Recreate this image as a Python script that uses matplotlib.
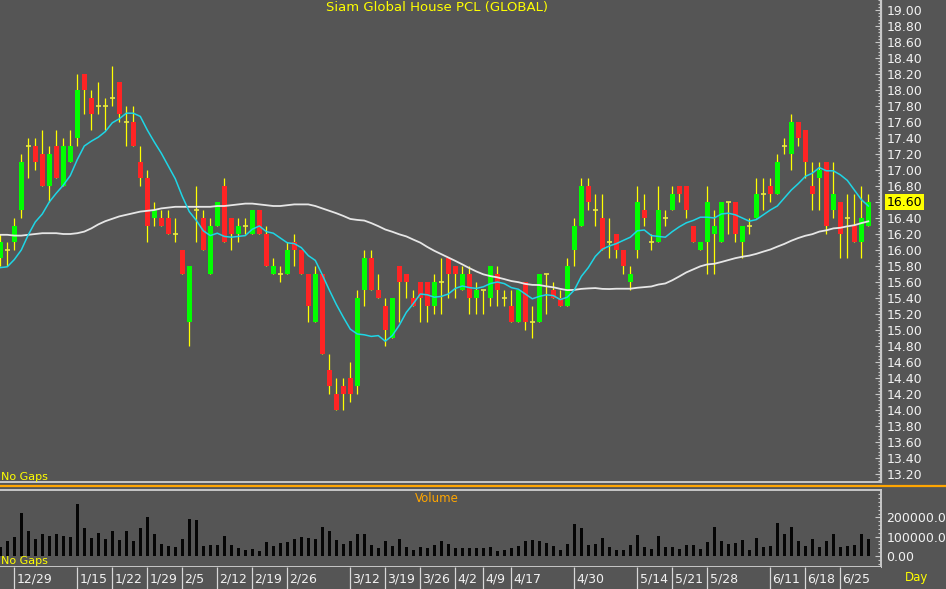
import matplotlib
matplotlib.use("Agg")
import matplotlib.pyplot as plt
import matplotlib.transforms as mtransforms
from matplotlib.ticker import FixedLocator, MultipleLocator, FuncFormatter
import numpy as np
import pandas as pd

# ---------------- data ----------------
title = "Siam Global House PCL (GLOBAL)"

opens = [15.9, 16.0, 16.1, 16.5, 17.3, 17.3, 17.2, 16.8, 17.3, 16.8,
         17.1, 17.4, 18.2, 17.9, 17.8, 17.8, 17.9, 18.1, 17.6, 17.6,
         17.1, 16.9, 16.4, 16.4, 16.4, 16.2, 16.0, 15.1, 16.5, 16.4,
         15.7, 16.3, 16.8, 16.4, 16.2, 16.3, 16.2, 16.5, 16.2, 15.7,
         15.7, 15.7, 16.1, 16.0, 15.7, 15.1, 15.7, 14.5, 14.2, 14.3,
         14.4, 14.3, 15.5, 15.9, 15.5, 15.3, 14.9, 15.8, 15.7, 15.4,
         15.6, 15.6, 15.3, 15.6, 15.9, 15.8, 15.5, 15.7, 15.4, 15.5,
         15.4, 15.7, 15.4, 15.3, 15.1, 15.6, 15.1, 15.1, 15.7, 15.5,
         15.4, 15.3, 16.0, 16.3, 16.8, 16.5, 16.4, 16.1, 16.2, 16.0,
         15.6, 16.0, 16.5, 16.1, 16.1, 16.4, 16.5, 16.8, 16.8, 16.3,
         16.0, 16.1, 16.2, 16.1, 16.6, 16.6, 16.1, 16.3, 16.4, 16.7,
         16.8, 16.7, 17.3, 17.2, 17.6, 17.5, 16.8, 16.9, 17.1, 16.5,
         16.6, 16.4, 16.3, 16.1, 16.3]
highs = [16.2, 16.1, 16.4, 17.2, 17.4, 17.4, 17.5, 17.3, 17.5, 17.4,
         17.5, 18.2, 18.2, 18.0, 18.1, 17.9, 18.3, 18.1, 17.8, 17.8,
         17.3, 17.0, 16.6, 16.5, 16.5, 16.4, 16.0, 15.8, 16.8, 16.5,
         16.4, 16.6, 16.9, 16.4, 16.4, 16.4, 16.5, 16.5, 16.3, 15.9,
         15.8, 16.1, 16.2, 16.0, 15.7, 15.8, 15.7, 14.7, 14.4, 14.4,
         14.6, 15.5, 16.0, 16.0, 15.7, 15.4, 15.4, 15.8, 15.7, 15.5,
         15.6, 15.6, 15.7, 15.9, 15.9, 15.8, 15.8, 15.8, 15.6, 15.5,
         15.8, 15.8, 15.5, 15.5, 15.5, 15.6, 15.3, 15.7, 15.7, 15.6,
         15.5, 15.9, 16.4, 16.9, 16.9, 16.7, 16.7, 16.4, 16.2, 16.0,
         15.8, 16.8, 16.7, 16.2, 16.8, 16.5, 16.8, 16.8, 16.8, 16.3,
         16.1, 16.8, 16.5, 16.6, 16.6, 16.6, 16.3, 16.4, 16.9, 16.9,
         16.9, 17.2, 17.4, 17.7, 17.6, 17.5, 17.1, 17.1, 17.1, 17.1,
         16.6, 16.7, 16.7, 16.8, 16.7]
lows = [15.8, 15.8, 16.0, 16.4, 16.9, 17.0, 16.8, 16.6, 16.9, 16.8,
        17.1, 17.3, 17.7, 17.5, 17.7, 17.5, 17.8, 17.6, 17.3, 17.3,
        16.8, 16.1, 16.3, 16.3, 16.2, 16.1, 15.7, 14.8, 16.1, 16.0,
        15.7, 16.3, 16.1, 16.0, 16.1, 16.2, 16.2, 16.2, 15.8, 15.7,
        15.6, 15.7, 15.8, 15.7, 15.1, 15.1, 14.7, 14.2, 14.0, 14.0,
        14.1, 14.2, 15.3, 15.5, 15.4, 14.8, 14.9, 15.1, 15.4, 15.3,
        15.1, 15.1, 15.2, 15.2, 15.4, 15.4, 15.5, 15.2, 15.2, 15.2,
        15.3, 15.3, 15.3, 15.1, 15.1, 15.0, 14.9, 15.1, 15.2, 15.4,
        15.3, 15.3, 15.8, 16.3, 16.5, 16.3, 16.0, 15.9, 15.9, 15.7,
        15.5, 15.9, 16.3, 16.0, 16.1, 16.3, 16.5, 16.6, 16.4, 16.1,
        16.0, 15.7, 15.7, 16.1, 16.2, 16.1, 15.9, 16.2, 16.4, 16.5,
        16.6, 16.7, 17.2, 17.0, 17.3, 16.9, 16.5, 16.5, 16.2, 16.4,
        15.9, 15.9, 16.1, 15.9, 16.3]
closes = [16.1, 16.0, 16.3, 17.1, 17.3, 17.1, 16.8, 17.2, 16.9, 17.3,
          17.3, 18.0, 18.0, 17.7, 17.8, 17.8, 17.9, 17.7, 17.6, 17.3,
          16.9, 16.3, 16.5, 16.3, 16.2, 16.2, 15.7, 15.8, 16.5, 16.0,
          16.3, 16.6, 16.1, 16.2, 16.3, 16.3, 16.5, 16.2, 15.8, 15.8,
          15.7, 16.0, 16.0, 15.7, 15.3, 15.7, 14.7, 14.3, 14.0, 14.2,
          14.2, 15.4, 15.9, 15.5, 15.4, 15.0, 15.4, 15.6, 15.6, 15.3,
          15.4, 15.3, 15.6, 15.6, 15.7, 15.7, 15.7, 15.4, 15.5, 15.5,
          15.8, 15.5, 15.4, 15.1, 15.5, 15.1, 15.1, 15.7, 15.7, 15.4,
          15.3, 15.8, 16.3, 16.8, 16.6, 16.5, 16.0, 16.1, 16.0, 15.8,
          15.7, 16.6, 16.4, 16.1, 16.5, 16.4, 16.7, 16.7, 16.5, 16.1,
          16.1, 16.6, 16.3, 16.6, 16.6, 16.2, 16.3, 16.3, 16.7, 16.7,
          16.7, 17.1, 17.3, 17.6, 17.4, 17.1, 16.7, 17.0, 16.3, 16.7,
          16.2, 16.4, 16.1, 16.4, 16.6]
volumes = [45000, 79000, 97000, 223000, 130000, 86000, 116000, 104000, 112000, 102000,
           97000, 269000, 145000, 95000, 117000, 86000, 130000, 81000, 130000, 76000,
           145000, 200000, 114000, 64000, 54000, 47000, 86000, 190000, 187000, 50000,
           55000, 55000, 102000, 55000, 41000, 31000, 36000, 28000, 73000, 50000,
           69000, 74000, 86000, 98000, 93000, 86000, 150000, 128000, 81000, 60000,
           78000, 112000, 112000, 55000, 41000, 76000, 50000, 90000, 47000, 33000,
           48000, 43000, 57000, 78000, 60000, 43000, 43000, 41000, 40000, 40000,
           47000, 28000, 31000, 41000, 52000, 76000, 85000, 76000, 66000, 50000,
           33000, 60000, 166000, 143000, 57000, 62000, 93000, 48000, 33000, 32000,
           59000, 110000, 45000, 35000, 105000, 47000, 47000, 38000, 55000, 59000,
           38000, 74000, 152000, 76000, 60000, 67000, 83000, 33000, 93000, 48000,
           54000, 173000, 114000, 152000, 76000, 54000, 86000, 47000, 79000, 116000,
           48000, 54000, 55000, 114000, 90000]

# moving-average values at the start of the chart (history not shown)
ma10_start = [15.78, 15.79, 15.88, 16.00, 16.19, 16.35, 16.45, 16.60, 16.71]
ma50_start = [16.19, 16.19, 16.18, 16.18, 16.19, 16.20, 16.21, 16.21, 16.21, 16.20,
              16.20, 16.21, 16.23, 16.27, 16.32, 16.36, 16.39, 16.42, 16.44, 16.46,
              16.48, 16.49, 16.50, 16.52, 16.53, 16.54, 16.54, 16.54, 16.54, 16.54,
              16.54, 16.55, 16.55, 16.56, 16.57, 16.58, 16.58, 16.57, 16.56, 16.55,
              16.55, 16.56, 16.57, 16.57, 16.57, 16.55, 16.52, 16.49, 16.46]

week_labels = ['12/29', '1/15', '1/22', '1/29', '2/5', '2/12', '2/19', '2/26',
               '3/12', '3/19', '3/26', '4/2', '4/9', '4/17', '4/30', '5/14',
               '5/21', '5/28', '6/11', '6/18', '6/25']
week_index = [2, 11, 16, 21, 26, 31, 36, 41, 50, 55, 60, 65, 69, 73, 82, 91,
              96, 101, 110, 115, 120]

last_price = 16.60

# ---------------- style ----------------
BG = '#555555'
W, H = 946, 589
plt.rcParams['font.family'] = ['DejaVu Sans']

fig = plt.figure(figsize=(W / 100, H / 100), dpi=100, facecolor=BG)


def rect(x0, y0, x1, y1):
    return [x0 / W, 1 - y1 / H, (x1 - x0) / W, (y1 - y0) / H]


ax = fig.add_axes(rect(0, 0, 881, 482), facecolor=BG)
axv = fig.add_axes(rect(0, 490, 881, 567), facecolor=BG, sharex=ax)
axs = fig.add_axes(rect(0, 567, 881, 589), facecolor=BG, sharex=ax)

n = len(closes)
x = np.arange(n)
o = np.array(opens); c = np.array(closes)
h = np.array(highs); l = np.array(lows)

# wicks
ax.vlines(x, l, h, color='#FFFF00', linewidth=0.9, zorder=2)
# bodies
up = c > o
dn = c < o
dj = c == o
ax.bar(x[up], (c - o)[up], bottom=o[up], width=0.72, color='#00FF00', linewidth=0, zorder=3)
ax.bar(x[dn], (o - c)[dn], bottom=c[dn], width=0.72, color='#FF2424', linewidth=0, zorder=3)
ax.hlines(c[dj], x[dj] - 0.36, x[dj] + 0.36, color='#E8E84A', linewidth=1.2, zorder=3)

# moving averages
cs = pd.Series(closes)
ma10 = cs.rolling(10).mean().to_numpy()
ma10[:len(ma10_start)] = ma10_start
ma50 = cs.rolling(50).mean().to_numpy()
ma50[:len(ma50_start)] = ma50_start
ax.plot(x, ma50, color='#E6E6E6', linewidth=1.3, zorder=4)
ax.plot(x, ma10, color='#1ED6E6', linewidth=1.1, zorder=5)

xlim = (-0.04, 125.81)
ax.set_xlim(*xlim)
ax.set_ylim(13.1, 19.125)

for sp in ['top', 'left']:
    ax.spines[sp].set_visible(False)
ax.spines['right'].set_color('#C8C8C8')
ax.spines['right'].set_linewidth(1.6)
ax.spines['bottom'].set_color('#C8C8C8')
ax.spines['bottom'].set_linewidth(1.4)
ax.xaxis.set_visible(False)
ax.yaxis.tick_right()
ticks = np.round(np.arange(13.2, 19.01, 0.2), 2)
ax.yaxis.set_major_locator(FixedLocator(ticks))
ax.yaxis.set_minor_locator(MultipleLocator(0.04))
ax.yaxis.set_major_formatter(FuncFormatter(
    lambda v, p: '' if abs(v - last_price) < 1e-6 else f'{v:.2f}'))
ax.tick_params(axis='y', which='major', direction='in', length=4.5, width=0.8,
               color='#C8C8C8', labelcolor='#F2F2F2', labelsize=9, pad=4)
ax.tick_params(axis='y', which='minor', direction='in', length=2, width=0.8,
               color='#C8C8C8')

# last price highlight
trans = mtransforms.blended_transform_factory(ax.transAxes, ax.transData)
ax.annotate(f'{last_price:.2f}', xy=(1.0, last_price), xycoords=trans,
            xytext=(4, 0), textcoords='offset points', ha='left', va='center',
            fontsize=9, color='black', annotation_clip=False,
            bbox=dict(boxstyle='square,pad=0.12', fc='#FFFF00', ec='none'))

fig.text(437 / W, 1 - 8 / H, title, color='#FFFF00', fontsize=9.5,
         ha='center', va='center')
fig.text(0.5 / W, 1 - 477 / H, 'No Gaps', color='#FFFF00', fontsize=8,
         ha='left', va='center')

# separator line between panels
fig.add_artist(plt.Line2D([0, 1], [1 - 486 / H, 1 - 486 / H], color='#FFA500',
                          linewidth=1.6, transform=fig.transFigure))

# ---------------- volume ----------------
axv.bar(x, volumes, width=0.45, color='#050505', linewidth=0, zorder=2)
axv.set_ylim(-57000, 342000)
axv.spines['left'].set_visible(False)
for sp in ['right', 'top', 'bottom']:
    axv.spines[sp].set_color('#C8C8C8')
    axv.spines[sp].set_linewidth(1.4)
axv.xaxis.set_visible(False)
axv.yaxis.tick_right()
axv.yaxis.set_major_locator(FixedLocator([0, 100000, 200000]))
axv.yaxis.set_minor_locator(MultipleLocator(20000))
axv.yaxis.set_major_formatter(FuncFormatter(lambda v, p: f'{v:.2f}'))
axv.tick_params(axis='y', which='major', direction='in', length=4.5, width=0.8,
                color='#C8C8C8', labelcolor='#F2F2F2', labelsize=9, pad=4)
axv.tick_params(axis='y', which='minor', direction='in', length=2, width=0.8,
                color='#C8C8C8')
fig.text(437 / W, 1 - 499 / H, 'Volume', color='#FFA500', fontsize=8.5,
         ha='center', va='center')
fig.text(0.5 / W, 1 - 561 / H, 'No Gaps', color='#FFFF00', fontsize=8,
         ha='left', va='center')

# ---------------- date strip ----------------
axs.set_ylim(0, 1)
for sp in axs.spines.values():
    sp.set_visible(False)
axs.xaxis.set_visible(False)
axs.yaxis.set_visible(False)
axs.vlines(week_index, 0, 1, color='#D8D8D8', linewidth=0.9)
for i, lab in zip(week_index, week_labels):
    axs.annotate(lab, xy=(i, 0.45), xycoords=('data', 'axes fraction'),
                 xytext=(1.6, 0), textcoords='offset points', ha='left',
                 va='center', fontsize=9, color='#F2F2F2')
fig.text(905 / W, 1 - 578 / H, 'Day', color='#FFFF00', fontsize=8.5,
         ha='left', va='center')

fig.savefig('out.png', dpi=100, facecolor=BG)
